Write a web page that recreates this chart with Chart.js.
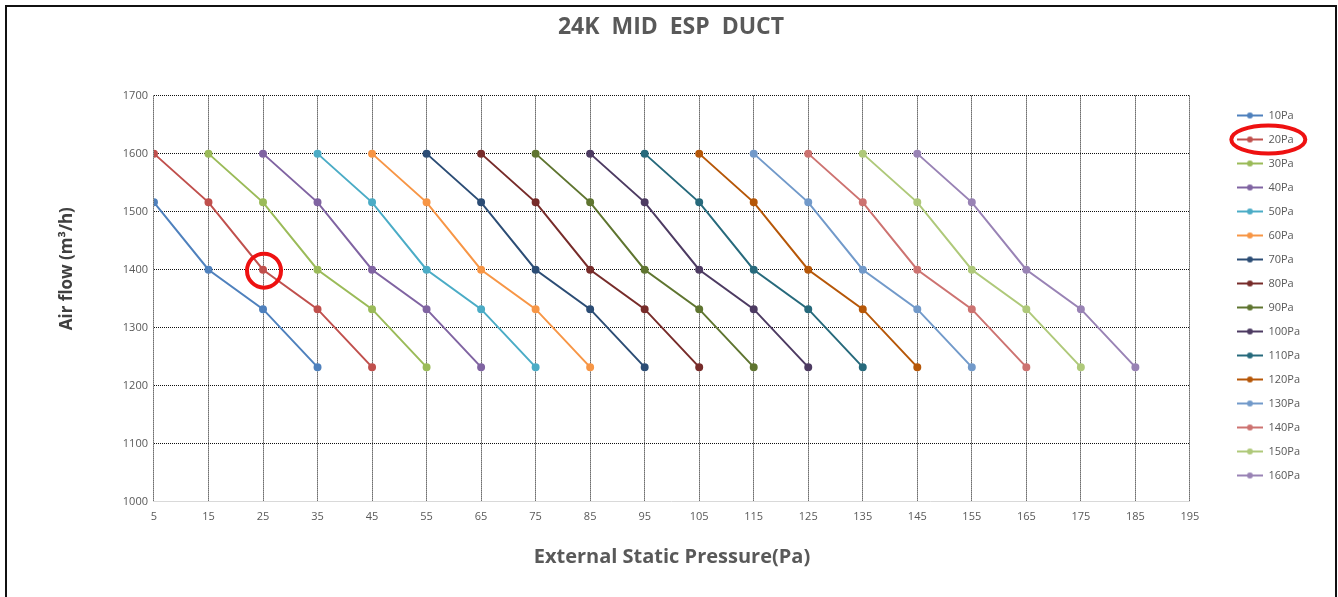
<!DOCTYPE html>
<html>
<head>
<meta charset="utf-8">
<script src="https://cdn.jsdelivr.net/npm/chart.js@4.4.0/dist/chart.umd.min.js"></script>
<style>
  html, body { margin: 0; padding: 0; background: #fff; }
  #wrap { position: absolute; left: 0; top: 0; width: 1338px; height: 597px; }
  #frame { position: absolute; left: 5px; top: 5px; width: 1328px; height: 620px;
           border: 2px solid #111; pointer-events: none; }
</style>
</head>
<body>
<div id="wrap"><canvas id="chart"></canvas></div>
<div id="frame"></div>
<script>
// Data
const seriesNames = ['10Pa', '20Pa', '30Pa', '40Pa', '50Pa', '60Pa', '70Pa', '80Pa',
                     '90Pa', '100Pa', '110Pa', '120Pa', '130Pa', '140Pa', '150Pa', '160Pa'];
const seriesColors = ['#4f81bd', '#c0504d', '#9bbb59', '#8064a2', '#4bacc6', '#f79646', '#2c4d75', '#772c2a',
                      '#5f7530', '#4d3b62', '#276a7c', '#b65708', '#729aca', '#cd7371', '#afc97a', '#9983b5'];
const xValues = [
  [5, 15, 25, 35],
  [5, 15, 25, 35, 45],
  [15, 25, 35, 45, 55],
  [25, 35, 45, 55, 65],
  [35, 45, 55, 65, 75],
  [45, 55, 65, 75, 85],
  [55, 65, 75, 85, 95],
  [65, 75, 85, 95, 105],
  [75, 85, 95, 105, 115],
  [85, 95, 105, 115, 125],
  [95, 105, 115, 125, 135],
  [105, 115, 125, 135, 145],
  [115, 125, 135, 145, 155],
  [125, 135, 145, 155, 165],
  [135, 145, 155, 165, 175],
  [145, 155, 165, 175, 185]
];
const yValues = [
  [1516, 1400, 1332, 1232],
  [1600, 1516, 1400, 1332, 1232],
  [1600, 1516, 1400, 1332, 1232],
  [1600, 1516, 1400, 1332, 1232],
  [1600, 1516, 1400, 1332, 1232],
  [1600, 1516, 1400, 1332, 1232],
  [1600, 1516, 1400, 1332, 1232],
  [1600, 1516, 1400, 1332, 1232],
  [1600, 1516, 1400, 1332, 1232],
  [1600, 1516, 1400, 1332, 1232],
  [1600, 1516, 1400, 1332, 1232],
  [1600, 1516, 1400, 1332, 1232],
  [1600, 1516, 1400, 1332, 1232],
  [1600, 1516, 1400, 1332, 1232],
  [1600, 1516, 1400, 1332, 1232],
  [1600, 1516, 1400, 1332, 1232]
];
const xTicks = [5, 15, 25, 35, 45, 55, 65, 75, 85, 95, 105, 115, 125, 135, 145, 155, 165, 175, 185, 195];
const yTicks = [1000, 1100, 1200, 1300, 1400, 1500, 1600, 1700];
const yTitle = 'Air flow (m\u00b3/h)';

// the red marks drawn on top of the picture
const markedPoint = { x: 25, y: 1400 };
const markedLegendItem = 1;

const font = '"Open Sans", "Noto Sans", sans-serif';
const legendShift = { x: 34, y: 4 };
const titleShift = 6;

// legend symbol: short line with a dot
function legendMark(color) {
  const c = document.createElement('canvas');
  c.width = 26; c.height = 8;
  const g = c.getContext('2d');
  g.strokeStyle = color; g.lineWidth = 2;
  g.beginPath(); g.moveTo(0, 4); g.lineTo(26, 4); g.stroke();
  g.fillStyle = color;
  g.beginPath(); g.arc(13, 4, 3, 0, Math.PI * 2); g.fill();
  return c;
}

const datasets = seriesNames.map((name, i) => ({
  label: name,
  data: xValues[i].map((x, j) => ({ x: x, y: yValues[i][j] })),
  borderColor: seriesColors[i],
  backgroundColor: seriesColors[i],
  borderWidth: 2,
  pointRadius: 3,
  pointHoverRadius: 3,
  pointStyle: 'circle',
  tension: 0,
  fill: false
}));

// nudge legend and title, draw y title a bit above centre, red marks
const extras = {
  id: 'extras',
  afterLayout(chart) {
    const lg = chart.legend;
    lg.left += legendShift.x; lg.right += legendShift.x;
    lg.top += legendShift.y; lg.bottom += legendShift.y;
    chart.titleBlock.left += titleShift;
    chart.titleBlock.right += titleShift;
  },
  afterDraw(chart) {
    const ctx = chart.ctx;
    const area = chart.chartArea;
    ctx.save();
    ctx.translate(area.left - 87, (area.top + area.bottom) / 2 - 30);
    ctx.rotate(-Math.PI / 2);
    ctx.fillStyle = '#404040';
    ctx.font = 'bold 17px ' + font;
    ctx.textAlign = 'center';
    ctx.textBaseline = 'middle';
    ctx.fillText(yTitle, 0, 0);
    ctx.restore();

    ctx.save();
    ctx.strokeStyle = '#ee1111';
    ctx.lineWidth = 4;
    const px = chart.scales.x.getPixelForValue(markedPoint.x) + 1;
    const py = chart.scales.y.getPixelForValue(markedPoint.y) + 1;
    ctx.beginPath(); ctx.arc(px, py, 17, 0, Math.PI * 2); ctx.stroke();
    const hb = chart.legend.legendHitBoxes[markedLegendItem];
    if (hb) {
      ctx.beginPath();
      ctx.ellipse(hb.left + hb.width / 2 + 3, hb.top + hb.height / 2, 37, 14, 0, 0, Math.PI * 2);
      ctx.stroke();
    }
    ctx.restore();
  }
};

new Chart(document.getElementById('chart'), {
  type: 'line',
  data: { datasets: datasets },
  plugins: [extras],
  options: {
    responsive: true,
    maintainAspectRatio: false,
    animation: false,
    layout: { padding: { top: 14, left: 54, right: 62, bottom: 28 } },
    plugins: {
      tooltip: { enabled: false },
      title: {
        display: true,
        text: '24K  MID  ESP  DUCT',
        color: '#595959',
        font: { family: font, size: 23, weight: 'bold' },
        padding: { top: 0, bottom: 54 }
      },
      legend: {
        position: 'right',
        labels: {
          usePointStyle: true,
          pointStyleWidth: 26,
          color: '#595959',
          font: { family: font, size: 11 },
          padding: 13,
          generateLabels(chart) {
            const items = Chart.defaults.plugins.legend.labels.generateLabels(chart);
            return items.map((it, i) => Object.assign(it, { pointStyle: legendMark(seriesColors[i]) }));
          }
        }
      }
    },
    scales: {
      x: {
        type: 'linear',
        min: xTicks[0],
        max: xTicks[xTicks.length - 1],
        afterBuildTicks(scale) { scale.ticks = xTicks.map(v => ({ value: v })); },
        grid: { color: '#111', lineWidth: 1, drawTicks: false },
        border: { display: true, color: '#d9d9d9', width: 1, dash: [1, 1] },
        ticks: { color: '#595959', font: { family: font, size: 11 }, padding: 8, maxRotation: 0, autoSkip: false },
        title: {
          display: true,
          text: 'External Static Pressure(Pa)',
          color: '#595959',
          font: { family: font, size: 20, weight: 'bold' },
          padding: { top: 14, bottom: 0 }
        }
      },
      y: {
        type: 'linear',
        min: yTicks[0],
        max: yTicks[yTicks.length - 1],
        afterBuildTicks(scale) { scale.ticks = yTicks.map(v => ({ value: v })); },
        grid: {
          color: c => (c.tick && c.tick.value === yTicks[0]) ? 'rgba(0,0,0,0)' : '#111',
          lineWidth: 1,
          drawTicks: false
        },
        border: { display: false, dash: [1, 1] },
        ticks: { color: '#595959', font: { family: font, size: 11 }, padding: 6, callback: v => String(v) },
        title: {
          // keeps the room for the title; the text itself is drawn by the extras plugin
          display: true,
          text: yTitle,
          color: 'rgba(0,0,0,0)',
          font: { family: font, size: 19, weight: 'bold' },
          padding: { top: 0, bottom: 40 }
        }
      }
    }
  }
});
</script>
</body>
</html>
